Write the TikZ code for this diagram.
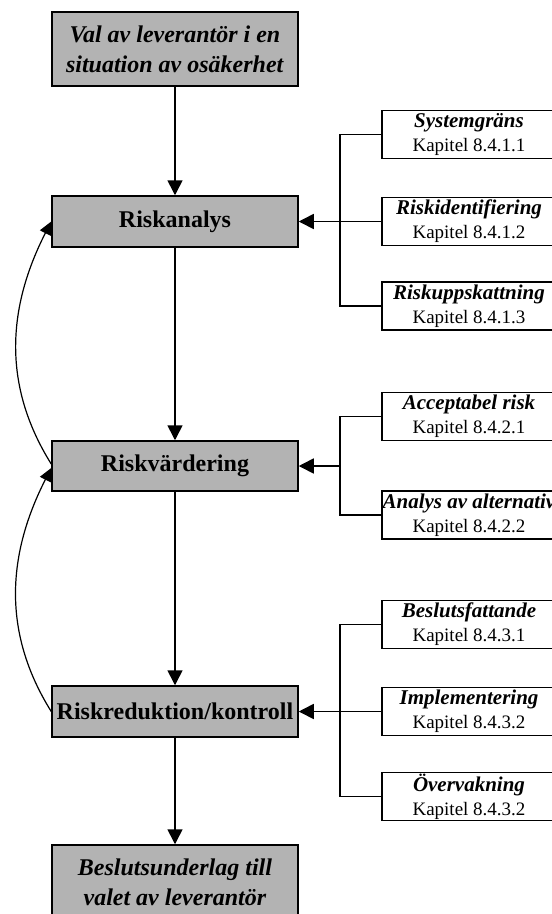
\documentclass[tikz,border=0pt]{standalone}
\usepackage{fontspec}
\setmainfont{Liberation Serif}
\usetikzlibrary{arrows.meta}
\definecolor{boxgray}{HTML}{B3B3B3}
\newcommand{\subtitle}[1]{{\fontsize{21}{24}\selectfont\textbf{\textit{#1}}}}
\begin{document}
\begin{tikzpicture}[x=1pt,y=1pt,
  mainbox/.style={draw=black, line width=1.5pt, fill=boxgray, minimum width=246pt,
    inner sep=0pt, align=center, font=\fontsize{24}{30}\selectfont},
  subbox/.style={draw=black, line width=1.5pt, fill=white, minimum width=174pt,
    minimum height=48pt, inner sep=0pt, align=center, font=\fontsize{19}{24}\selectfont},
  link/.style={line width=1.4pt},
  flow/.style={line width=1.6pt, -{Triangle[length=15pt,width=15pt]}},
  loop/.style={line width=1.2pt, -{Triangle[length=13pt,width=12pt]}}
]
\useasboundingbox (0,0) rectangle (552,-914);
\clip (0,0) rectangle (552,-914);

% main column
\node[mainbox, minimum height=74pt] (start) at (175,-49)
  {\textbf{\textit{Val av leverantör i en}}\\\textbf{\textit{situation av osäkerhet}}};
\node[mainbox, minimum height=51pt] (ra) at (175,-221.5) {\textbf{Riskanalys}};
\node[mainbox, minimum height=50pt] (rv) at (175,-466) {\textbf{Riskvärdering}};
\node[mainbox, minimum height=51pt] (rr) at (175,-711.5) {\textbf{Riskreduktion/kontroll}};
\node[mainbox, minimum height=74pt] (end) at (175,-882)
  {\textbf{\textit{Beslutsunderlag till}}\\\textbf{\textit{valet av leverantör}}};

% sub-steps of the risk analysis
\node[subbox] (sys) at (469,-134.5) {\subtitle{Systemgräns}\\Kapitel 8.4.1.1};
\node[subbox] (ide) at (469,-221.5) {\subtitle{Riskidentifiering}\\Kapitel 8.4.1.2};
\node[subbox] (upp) at (469,-306) {\subtitle{Riskuppskattning}\\Kapitel 8.4.1.3};

% sub-steps of the risk evaluation
\node[subbox] (acc) at (469,-416.5) {\subtitle{Acceptabel risk}\\Kapitel 8.4.2.1};
\node[subbox] (alt) at (469,-515) {\subtitle{Analys av alternativ}\\Kapitel 8.4.2.2};

% sub-steps of the risk reduction
\node[subbox] (bes) at (469,-624.5) {\subtitle{Beslutsfattande}\\Kapitel 8.4.3.1};
\node[subbox] (imp) at (469,-711.5) {\subtitle{Implementering}\\Kapitel 8.4.3.2};
\node[subbox] (ove) at (469,-796.5) {\subtitle{Övervakning}\\Kapitel 8.4.3.2};

% bracket junctions
\coordinate (j1) at (340,-221.5);
\coordinate (j2) at (340,-466);
\coordinate (j3) at (340,-711.5);

% brackets
\draw[link] (sys.west) -| (j1) |- (upp.west);
\draw[link] (ide.west) -- (j1);
\draw[link] (acc.west) -| (j2) |- (alt.west);
\draw[link] (bes.west) -| (j3) |- (ove.west);
\draw[link] (imp.west) -- (j3);

% brackets into the main steps
\draw[flow] (j1) -- (ra.east);
\draw[flow] (j2) -- (rv.east);
\draw[flow] (j3) -- (rr.east);

% main flow
\draw[flow] (start.south) -- (ra.north);
\draw[flow] (ra.south) -- (rv.north);
\draw[flow] (rv.south) -- (rr.north);
\draw[flow] (rr.south) -- (end.north);

% feedback loops
\draw[loop] ([yshift=2pt]rv.west) to[out=122,in=243] (ra.west);
\draw[loop] (rr.west) to[out=122,in=243] ([yshift=-2pt]rv.west);
\end{tikzpicture}
\end{document}
